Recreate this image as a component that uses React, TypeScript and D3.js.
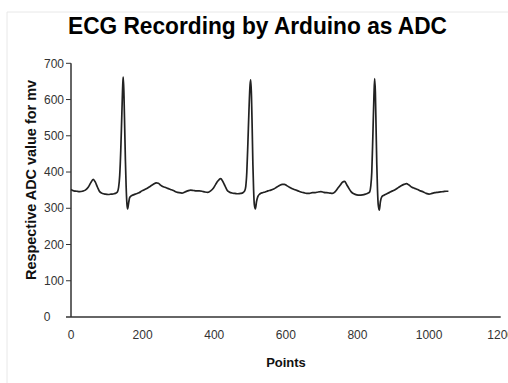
import React from "react";
import * as d3 from "d3";

const TITLE = "ECG Recording by Arduino as ADC";
const X_LABEL = "Points";
const Y_LABEL = "Respective ADC value for mv";
const X_TICKS = [0, 200, 400, 600, 800, 1000, 1200];
const Y_TICKS = [100, 200, 300, 400, 500, 600, 700];

const pointIndex = [
  0, 8, 16, 24, 32, 40, 48, 55, 62, 68, 74, 80, 88, 96, 104, 112, 120, 126, 130, 133,
  136, 139, 142, 145, 146, 148, 150, 152, 154, 156, 158, 161, 164, 168, 174, 182, 190, 198, 206, 214,
  222, 230, 238, 244, 250, 256, 262, 270, 278, 286, 294, 302, 310, 318, 326, 334, 342, 350, 358, 366,
  374, 382, 390, 398, 404, 410, 418, 424, 430, 436, 442, 450, 458, 466, 474, 480, 485, 488, 491, 494,
  497, 500, 502, 504, 506, 508, 510, 512, 515, 518, 522, 528, 535, 542, 550, 558, 566, 574, 582, 590,
  596, 602, 610, 618, 626, 634, 642, 650, 658, 666, 674, 682, 690, 698, 706, 714, 722, 730, 738, 745,
  752, 758, 764, 770, 776, 782, 790, 798, 806, 814, 822, 830, 834, 837, 840, 843, 846, 848, 850, 852,
  854, 856, 858, 861, 864, 868, 874, 882, 890, 898, 906, 914, 922, 930, 937, 944, 952, 960, 968, 976,
  984, 992, 1000, 1008, 1016, 1024, 1032, 1040, 1048, 1054,
];

const adcValue = [
  352, 348, 347, 346, 347, 350, 358, 370, 380, 372, 358, 346, 341, 339, 338, 339, 340, 342, 346, 358,
  390, 460, 560, 650, 662, 610, 520, 430, 360, 315, 298, 315, 330, 334, 337, 340, 343, 348, 352, 356,
  361, 366, 370, 369, 364, 360, 358, 355, 352, 349, 345, 343, 342, 345, 348, 350, 349, 348, 348, 347,
  345, 344, 348, 356, 366, 375, 382, 374, 362, 350, 345, 342, 341, 340, 341, 343, 348, 360, 400, 480,
  570, 640, 654, 610, 520, 420, 350, 310, 298, 318, 333, 340, 343, 345, 348, 350, 353, 358, 363, 366,
  366, 363, 358, 354, 351, 348, 345, 343, 341, 341, 343, 343, 345, 346, 344, 343, 342, 341, 346, 355,
  364, 372, 374, 365, 355, 346, 340, 337, 336, 337, 339, 342, 345, 360, 400, 500, 610, 658, 620, 520,
  420, 350, 310, 295, 318, 332, 336, 340, 344, 348, 352, 357, 362, 366, 368, 364, 358, 355, 352, 348,
  345, 341, 339, 341, 343, 344, 345, 346, 347, 347,
];

export default function App() {
  const W = 508;
  const H = 383;
  const x = d3.scaleLinear().domain([0, 1200]).range([71, 500.7]);
  const y = d3.scaleLinear().domain([0, 700]).range([317, 63.3]);
  const data = pointIndex.map((p, i) => [p, adcValue[i]] as [number, number]);
  const line = d3
    .line<[number, number]>()
    .x((d) => x(d[0]))
    .y((d) => y(d[1]))
    .curve(d3.curveMonotoneX);

  const tickFont = "'Liberation Sans', Arial, sans-serif";

  return (
    <svg
      width={W}
      height={H}
      style={{ position: "absolute", left: 0, top: 0, background: "#fff" }}
    >
      {/* faint frame */}
      <line x1={7} y1={12} x2={W} y2={12} stroke="#e8e8e8" strokeWidth={1} />
      <line x1={7} y1={12} x2={7} y2={H} stroke="#e8e8e8" strokeWidth={1} />

      {/* title */}
      <text
        x={257.5}
        y={33.5}
        textAnchor="middle"
        fontFamily={tickFont}
        fontWeight="bold"
        fontSize={23.5}
        fill="#000"
        textLength={379}
        lengthAdjust="spacingAndGlyphs"
      >
        {TITLE}
      </text>

      {/* axes */}
      <line x1={x(0)} y1={y(700)} x2={x(0)} y2={y(0)} stroke="#333" strokeWidth={1.5} />
      <line x1={66} y1={y(0)} x2={x(1200)} y2={y(0)} stroke="#333" strokeWidth={1.5} />

      {Y_TICKS.map((t) => (
        <g key={"y" + t}>
          <line x1={66} x2={x(0)} y1={y(t)} y2={y(t)} stroke="#333" strokeWidth={1} />
          <text
            x={64}
            y={y(t)}
            dy="0.35em"
            textAnchor="end"
            fontFamily={tickFont}
            fontSize={12}
            fill="#333"
          >
            {t}
          </text>
        </g>
      ))}
      <text x={47} y={y(0)} dy="0.35em" textAnchor="middle" fontFamily={tickFont} fontSize={12} fill="#333">
        0
      </text>

      {X_TICKS.map((t) => (
        <text
          key={"x" + t}
          x={x(t)}
          y={339}
          textAnchor="middle"
          fontFamily={tickFont}
          fontSize={12}
          fill="#333"
        >
          {t}
        </text>
      ))}

      {/* axis titles */}
      <text
        x={286}
        y={367}
        textAnchor="middle"
        fontFamily={tickFont}
        fontWeight="bold"
        fontSize={13}
        fill="#111"
      >
        {X_LABEL}
      </text>
      <text
        transform={`translate(36,180) rotate(-90)`}
        textAnchor="middle"
        fontFamily={tickFont}
        fontWeight="bold"
        fontSize={14}
        fill="#111"
        textLength={200}
        lengthAdjust="spacingAndGlyphs"
      >
        {Y_LABEL}
      </text>

      {/* signal */}
      <path d={line(data) || ""} fill="none" stroke="#222" strokeWidth={1.7} strokeLinejoin="round" />
    </svg>
  );
}
